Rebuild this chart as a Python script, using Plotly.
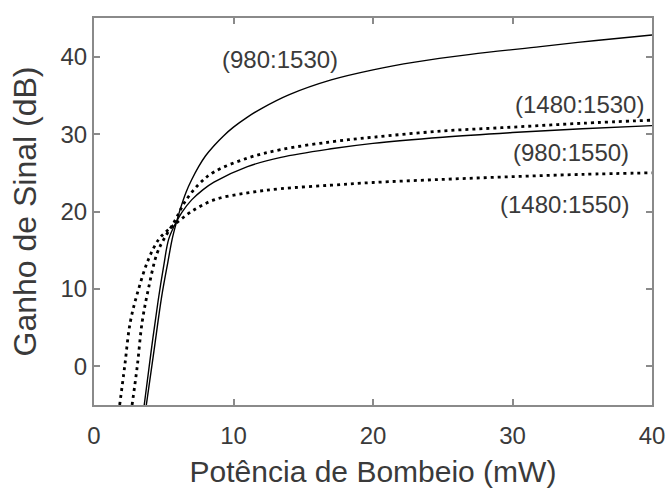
import plotly.graph_objects as go

# Pump power (mW) and signal gain (dB)
x_980_1530 = [3.75, 4.3, 4.85, 5.3, 5.6, 5.85, 6.2, 6.6, 7.0, 7.5, 8.0, 8.6, 9.3, 10, 11, 12, 14, 17, 20, 23, 27, 32, 36, 40]
y_980_1530 = [-5, 2, 9, 13.5, 16.4, 18.2, 20.4, 22.5, 24.1, 25.8, 27.2, 28.5, 29.8, 30.9, 32.2, 33.3, 35.1, 37.0, 38.3, 39.3, 40.3, 41.3, 42.1, 42.8]

x_980_1550 = [3.6, 4.1, 4.6, 5.0, 5.35, 5.8, 6.3, 7, 7.8, 8.6, 11, 13.4, 17, 20, 25, 30, 35, 40]
y_980_1550 = [-5, 2, 8.5, 13, 16.4, 18.3, 19.9, 21.5, 22.8, 23.8, 25.8, 27.0, 28.1, 28.8, 29.6, 30.2, 30.7, 31.1]

x_1480_1530 = [2.73, 3.1, 3.45, 3.9, 4.5, 5.0, 5.8, 6.5, 7.5, 8.6, 11, 13.4, 17, 20, 25, 30, 35, 40]
y_1480_1530 = [-5, 0, 5.7, 10, 14.5, 16.4, 18.8, 21.2, 23.5, 25.1, 26.9, 28.0, 29.0, 29.6, 30.4, 30.9, 31.4, 31.8]

x_1480_1550 = [1.84, 2.2, 2.6, 3.2, 3.9, 4.64, 5.3, 5.9, 6.9, 8.6, 11, 13.4, 17, 20, 25, 30, 35, 40]
y_1480_1550 = [-5, 0, 5.7, 10, 13.8, 16.4, 17.6, 18.5, 19.9, 21.5, 22.4, 22.95, 23.4, 23.75, 24.15, 24.5, 24.8, 25.0]

labels = ["(980:1530)", "(1480:1530)", "(980:1550)", "(1480:1550)"]
label_x = [13.3, 34.8, 34.2, 33.7]
label_y = [39.6, 33.8, 27.6, 20.9]

x_ticks = [0, 10, 20, 30, 40]
y_ticks = [0, 10, 20, 30, 40]

FONT = "Liberation Sans, Arial, Helvetica, sans-serif"
TXT = "#3a3a3a"
AX = "#8a8a8a"

fig = go.Figure()
solid = dict(color="black", width=1.4, shape="spline", smoothing=1.0)
dotted = dict(color="black", width=2.8, dash="3px,4px", shape="spline", smoothing=1.0)
fig.add_trace(go.Scatter(x=x_980_1530, y=y_980_1530, mode="lines", line=solid, name="980:1530"))
fig.add_trace(go.Scatter(x=x_980_1550, y=y_980_1550, mode="lines", line=solid, name="980:1550"))
fig.add_trace(go.Scatter(x=x_1480_1530, y=y_1480_1530, mode="lines", line=dotted, name="1480:1530"))
fig.add_trace(go.Scatter(x=x_1480_1550, y=y_1480_1550, mode="lines", line=dotted, name="1480:1550"))

for t, lx, ly in zip(labels, label_x, label_y):
    fig.add_annotation(x=lx, y=ly, text=t, showarrow=False,
                       font=dict(family=FONT, size=24, color=TXT),
                       xanchor="center", yanchor="middle")

axis_common = dict(showgrid=False, zeroline=False, showline=True, linecolor=AX, linewidth=2,
                   mirror="allticks", ticks="inside", ticklen=6, tickcolor=AX, tickwidth=1.5,
                   automargin=False,
                   tickfont=dict(family=FONT, size=24, color=TXT))

fig.update_layout(
    width=668, height=491,
    margin=dict(l=94, r=16, t=18, b=86),
    paper_bgcolor="white", plot_bgcolor="white",
    showlegend=False,
    xaxis=dict(range=[0, 40], tickvals=x_ticks, ticktext=[str(v) for v in x_ticks],
               ticklabelstandoff=8,
               title=dict(text="Potência de Bombeio (mW)", font=dict(family=FONT, size=30, color=TXT), standoff=13),
               **axis_common),
    yaxis=dict(range=[-5, 45], tickvals=y_ticks, ticktext=[str(v) for v in y_ticks],
               title=dict(text="Ganho de Sinal (dB)", font=dict(family=FONT, size=32, color=TXT), standoff=14),
               **axis_common),
)

fig.write_html("out.html")
